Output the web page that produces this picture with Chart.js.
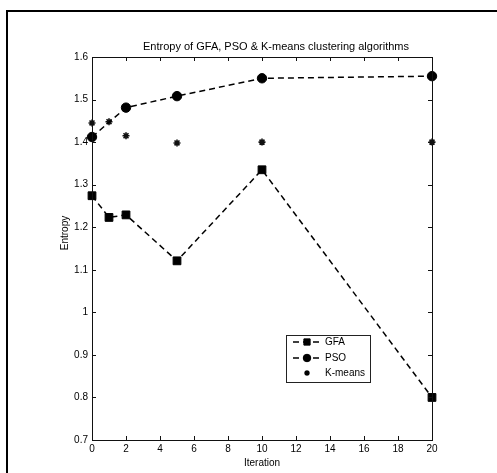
<!DOCTYPE html>
<html><head><meta charset="utf-8">
<script src="https://cdn.jsdelivr.net/npm/chart.js@4"></script>
<style>
html,body{margin:0;padding:0;background:#fff;overflow:hidden}
#wrap{position:relative;width:497px;height:473px}
#frame{position:absolute;left:6px;top:10px;width:495px;height:470px;border-left:2px solid #000;border-top:2px solid #000}
canvas{position:absolute;left:0;top:0}
</style></head>
<body><div id="wrap"><div id="frame"></div><canvas id="c" width="497" height="473"></canvas></div>
<script>
// ---- data ----
const gfaIter = [0, 1, 2, 5, 10, 20];
const gfaEntropy = [1.274, 1.223, 1.229, 1.121, 1.335, 0.800];
const psoIter = [0, 2, 5, 10, 20];
const psoEntropy = [1.412, 1.481, 1.508, 1.550, 1.555];
const kmIter = [0, 1, 2, 5, 10, 20];
const kmEntropy = [1.445, 1.448, 1.415, 1.398, 1.400, 1.400];
const seriesNames = ['GFA', 'PSO', 'K-means'];
const xTickLabels = ['0','2','4','6','8','10','12','14','16','18','20'];
const yTickLabels = ['0.7','0.8','0.9','1','1.1','1.2','1.3','1.4','1.5','1.6'];
const chartTitle = 'Entropy of GFA, PSO & K-means clustering algorithms';
const xTitle = 'Iteration';
const yTitle = 'Entropy';

const FONT = "'Liberation Sans', Arial, Helvetica, sans-serif";
const toPts = (xs, ys) => xs.map((x, i) => ({x: x, y: ys[i]}));

const decor = {
  id: 'decor',
  afterDraw(chart) {
    const {ctx, chartArea: a, scales: {x, y}} = chart;
    ctx.save();
    ctx.strokeStyle = '#111';
    ctx.lineWidth = 1;
    ctx.setLineDash([]);
    ctx.strokeRect(Math.round(a.left) + 0.5, Math.round(a.top) + 0.5,
                   Math.round(a.right - a.left), Math.round(a.bottom - a.top));
    const TL = 4;
    ctx.beginPath();
    x.ticks.forEach((t, i) => {
      const px = Math.round(x.getPixelForTick(i)) + 0.5;
      ctx.moveTo(px, a.bottom); ctx.lineTo(px, a.bottom - TL);
      ctx.moveTo(px, a.top); ctx.lineTo(px, a.top + TL);
    });
    y.ticks.forEach((t, i) => {
      const py = Math.round(y.getPixelForTick(i)) + 0.5;
      ctx.moveTo(a.left, py); ctx.lineTo(a.left + TL, py);
      ctx.moveTo(a.right, py); ctx.lineTo(a.right - TL, py);
    });
    ctx.stroke();

    // title
    ctx.fillStyle = '#000';
    ctx.font = '11px ' + FONT;
    ctx.textAlign = 'center';
    ctx.textBaseline = 'middle';
    ctx.fillText(chartTitle, 276, 47);

    // y title
    ctx.save();
    ctx.font = '10px ' + FONT;
    ctx.translate(65, 233);
    ctx.rotate(-Math.PI / 2);
    ctx.fillText(yTitle, 0, 0);
    ctx.restore();

    // legend
    const lx = 286, ly = 335, lw = 84, lh = 47;
    ctx.fillStyle = '#fff';
    ctx.fillRect(lx, ly, lw, lh);
    ctx.strokeStyle = '#222';
    ctx.lineWidth = 1;
    ctx.strokeRect(lx + 0.5, ly + 0.5, lw, lh);
    const rows = [342, 358, 373];
    chart.data.datasets.forEach((ds, i) => {
      const yy = rows[i];
      ctx.strokeStyle = '#000';
      ctx.fillStyle = '#000';
      if (ds.showLine) {
        ctx.lineWidth = ds.borderWidth;
        ctx.setLineDash(ds.borderDash || []);
        ctx.beginPath();
        ctx.moveTo(293, yy); ctx.lineTo(321, yy);
        ctx.stroke();
        ctx.setLineDash([]);
      }
      ctx.lineWidth = ds.pointBorderWidth || 1;
      Chart.helpers.drawPoint(ctx, {pointStyle: ds.pointStyle, radius: ds.pointRadius * 0.8,
        rotation: 0, borderWidth: ds.pointBorderWidth || 1}, 307, yy);
      ctx.fillStyle = '#000';
      ctx.font = '10px ' + FONT;
      ctx.textAlign = 'left';
      ctx.textBaseline = 'middle';
      ctx.fillText(seriesNames[i], 325, yy + 0.5);
    });
    ctx.restore();
  }
};

new Chart(document.getElementById('c'), {
  type: 'scatter',
  data: {
    datasets: [
      {label: seriesNames[0], data: toPts(gfaIter, gfaEntropy), showLine: true, clip: false,
       borderColor: '#000', backgroundColor: '#000', borderWidth: 1.5, borderDash: [6, 4],
       pointStyle: 'rect', pointRadius: 5.5, pointBorderWidth: 1, pointBackgroundColor: '#000', pointBorderColor: '#000'},
      {label: seriesNames[1], data: toPts(psoIter, psoEntropy), showLine: true, clip: false,
       borderColor: '#000', backgroundColor: '#000', borderWidth: 1.5, borderDash: [6, 4],
       pointStyle: 'circle', pointRadius: 4.7, pointBorderWidth: 1, pointBackgroundColor: '#000', pointBorderColor: '#000'},
      {label: seriesNames[2], data: toPts(kmIter, kmEntropy), showLine: false, clip: false,
       borderColor: '#000', backgroundColor: '#000', borderWidth: 1.5,
       pointStyle: 'star', pointRadius: 3.5, pointBorderWidth: 1.6, pointBackgroundColor: '#000', pointBorderColor: '#111'}
    ]
  },
  options: {
    responsive: false,
    animation: false,
    events: [],
    layout: {padding: {left: 59, right: 65, top: 57, bottom: 4}},
    plugins: {legend: {display: false}, title: {display: false}, tooltip: {enabled: false}},
    scales: {
      x: {
        type: 'linear', min: 0, max: 20,
        ticks: {stepSize: 2, autoSkip: false, maxRotation: 0, padding: 3, color: '#000',
                font: {family: FONT, size: 10}, callback: (v, i) => xTickLabels[i]},
        grid: {display: false, drawTicks: false},
        border: {display: false},
        title: {display: true, text: xTitle, color: '#000', font: {family: FONT, size: 10}, padding: 0},
        afterFit(s) { s.height = 29; }
      },
      y: {
        type: 'linear', min: 0.7, max: 1.6,
        ticks: {stepSize: 0.1, autoSkip: false, padding: 4, color: '#000',
                font: {family: FONT, size: 10}, callback: (v, i) => yTickLabels[i]},
        grid: {display: false, drawTicks: false},
        border: {display: false},
        afterFit(s) { s.width = 33; }
      }
    }
  },
  plugins: [decor]
});
</script>
</body></html>
